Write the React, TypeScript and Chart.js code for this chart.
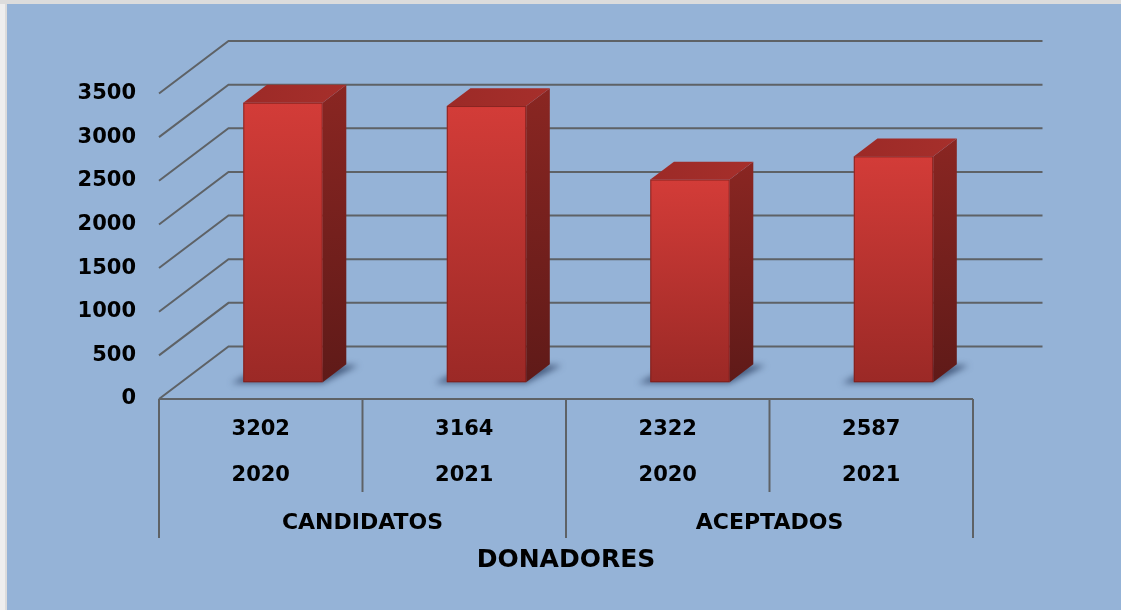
import React, { useEffect, useRef } from "react";
import { Chart, registerables } from "chart.js";

Chart.register(...registerables);

const groups = ["CANDIDATOS", "ACEPTADOS"];
const years = ["2020", "2021", "2020", "2021"];
const values = [3202, 3164, 2322, 2587];
const axisTitle = "DONADORES";
const yMax = 3500;
const yStep = 500;

const FONT = "'DejaVu Sans', sans-serif";
const GRID = "#5e6266";
const DX = 69.5;
const DY = -52.5;
const F1 = 0.32;
const F2 = 0.66;

const threeD = {
  id: "threeD",
  beforeDatasetsDraw(chart: any) {
    const { ctx, chartArea, scales } = chart;
    const y = scales.y;
    const { left, right, bottom } = chartArea;
    ctx.save();
    ctx.strokeStyle = GRID;
    ctx.lineWidth = 2;
    ctx.lineCap = "butt";
    y.ticks.forEach((t: any) => {
      const yf = y.getPixelForValue(t.value);
      ctx.beginPath();
      ctx.moveTo(left, yf);
      ctx.lineTo(left + DX, yf + DY);
      ctx.lineTo(right + DX, yf + DY);
      ctx.stroke();
    });
    ctx.beginPath();
    ctx.moveTo(left, bottom);
    ctx.lineTo(right, bottom);
    ctx.stroke();
    const n = years.length;
    const cw = (right - left) / n;
    for (let i = 0; i <= n; i++) {
      const xx = left + i * cw;
      const len = i % 2 === 0 ? 139 : 93;
      ctx.beginPath();
      ctx.moveTo(xx, bottom);
      ctx.lineTo(xx, bottom + len);
      ctx.stroke();
    }
    ctx.fillStyle = "#000";
    ctx.textAlign = "center";
    ctx.textBaseline = "middle";
    ctx.font = `bold 21px ${FONT}`;
    const xs = scales.x;
    values.forEach((v, i) => {
      const cx = xs.getPixelForValue(i);
      ctx.fillText(String(v), cx, bottom + 31);
      ctx.fillText(years[i], cx, bottom + 77);
    });
    ctx.font = `bold 22px ${FONT}`;
    groups.forEach((g, gi) => {
      const cx = left + (gi * 2 + 1) * cw;
      ctx.fillText(g, cx, bottom + 124);
    });
    ctx.font = `bold 25px ${FONT}`;
    ctx.fillText(axisTitle, (left + right) / 2, bottom + 161);
    ctx.restore();
  },
  afterDatasetsDraw(chart: any) {
    const { ctx } = chart;
    const meta = chart.getDatasetMeta(0);
    const ox = F1 * DX, oy = F1 * DY;
    const dx = (F2 - F1) * DX, dy = (F2 - F1) * DY;
    meta.data.forEach((el: any) => {
      const w = el.width;
      const x0 = el.x - w / 2 + ox;
      const x1 = el.x + w / 2 + ox;
      const yt = el.y + oy;
      const yb = el.base + oy;
      ctx.save();
      ctx.filter = "blur(3px)";
      ctx.fillStyle = "rgba(45,65,100,0.75)";
      ctx.beginPath();
      ctx.moveTo(x0 - 12, yb + 1);
      ctx.lineTo(x1, yb + 1);
      ctx.lineTo(x1 + dx + 12, yb + dy + 1);
      ctx.lineTo(x0 + dx, yb + dy);
      ctx.closePath();
      ctx.fill();
      ctx.restore();

      ctx.save();
      const gs = ctx.createLinearGradient(0, yt + dy, 0, yb);
      gs.addColorStop(0, "#8a2622");
      gs.addColorStop(1, "#5f1a18");
      ctx.fillStyle = gs;
      ctx.beginPath();
      ctx.moveTo(x1, yt);
      ctx.lineTo(x1 + dx, yt + dy);
      ctx.lineTo(x1 + dx, yb + dy);
      ctx.lineTo(x1, yb);
      ctx.closePath();
      ctx.fill();
      const gt = ctx.createLinearGradient(x0, 0, x1 + dx, 0);
      gt.addColorStop(0, "#9c2a27");
      gt.addColorStop(1, "#a62f2b");
      ctx.fillStyle = gt;
      ctx.beginPath();
      ctx.moveTo(x0, yt);
      ctx.lineTo(x0 + dx, yt + dy);
      ctx.lineTo(x1 + dx, yt + dy);
      ctx.lineTo(x1, yt);
      ctx.closePath();
      ctx.fill();
      const gf = ctx.createLinearGradient(0, yt, 0, yb);
      gf.addColorStop(0, "#d33c38");
      gf.addColorStop(1, "#9b2926");
      ctx.fillStyle = gf;
      ctx.fillRect(x0, yt, x1 - x0, yb - yt);
      ctx.strokeStyle = "rgba(120,30,28,0.8)";
      ctx.lineWidth = 1;
      ctx.strokeRect(x0 + 0.5, yt + 0.5, x1 - x0 - 1, yb - yt - 1);
      ctx.restore();
    });
  },
};

export default function App() {
  const ref = useRef<HTMLCanvasElement>(null);
  useEffect(() => {
    if (!ref.current) return;
    const chart = new Chart(ref.current, {
      type: "bar",
      data: {
        labels: years,
        datasets: [
          {
            data: values,
            backgroundColor: "rgba(0,0,0,0)",
            borderWidth: 0,
            barPercentage: 0.39,
            categoryPercentage: 1,
          },
        ],
      },
      options: {
        animation: false,
        responsive: false,
        maintainAspectRatio: false,
        events: [],
        layout: { padding: { left: 0, top: 93.5, right: 148, bottom: 211 } },
        plugins: { legend: { display: false }, tooltip: { enabled: false } },
        scales: {
          x: { type: "category", display: false, offset: true },
          y: {
            min: 0,
            max: yMax,
            ticks: {
              stepSize: yStep,
              padding: 23,
              color: "#000",
              font: { family: FONT, size: 21, weight: "bold" },
              callback: (v: any) => String(v),
            },
            grid: { display: false, drawTicks: false },
            border: { display: false },
            afterFit: (s: any) => {
              s.width = 159;
            },
          },
        },
      },
      plugins: [threeD],
    });
    return () => chart.destroy();
  }, []);
  return (
    <div
      style={{
        position: "fixed",
        left: 0,
        top: 0,
        width: 1121,
        height: 610,
        background: "#dcdcdc",
        overflow: "hidden",
      }}
    >
      <div style={{ position: "absolute", left: 0, top: 4, width: 5, height: 606, background: "#eeeeee" }} />
      <div
        style={{
          position: "absolute",
          left: 7,
          top: 4,
          width: 1114,
          height: 606,
          background: "#95b3d7",
        }}
      />
      <canvas
        ref={ref}
        width={1121}
        height={610}
        style={{ position: "absolute", left: 0, top: 0, width: 1121, height: 610 }}
      />
    </div>
  );
}
